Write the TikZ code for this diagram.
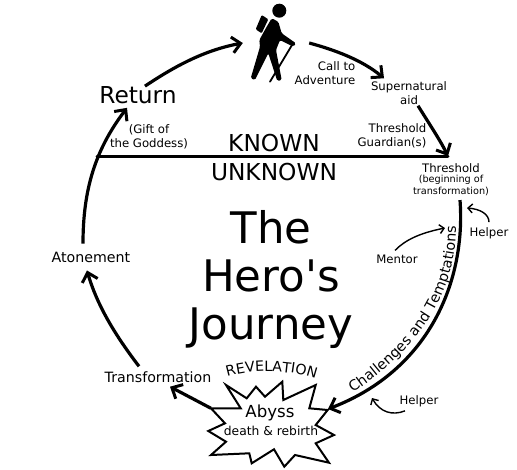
\documentclass[tikz,border=0pt]{standalone}
\usepackage{fontspec}
\setmainfont{DejaVu Sans}
\newfontfamily\titlefont{DejaVu Sans}[Ligatures=NoRequired]
\usepackage{xcolor}
\usetikzlibrary{arrows.meta,decorations.text}
\begin{document}
\begin{tikzpicture}[x=1pt,y=-1pt,every node/.style={inner sep=0pt,align=center,text=black},
lab/.style={font=\fontsize{11.7}{14}\selectfont},
small/.style={font=\fontsize{9.7}{12}\selectfont},
mid/.style={font=\fontsize{14.2}{17}\selectfont},
big/.style={font=\fontsize{23.3}{28}\selectfont},
heavy/.style={line width=3.2pt,-{Straight Barb[length=8.5pt,width=16pt,line width=3pt]}},
thin/.style={line width=1.4pt,-{Straight Barb[length=4.5pt,width=9pt,line width=1.4pt]}}]
\useasboundingbox (0,0) rectangle (517,469);
\fill[white] (0,0) rectangle (517,469);
% abyss star
\draw[line width=2pt,fill=white,miter limit=10] (226,385)--(246.7,398.3)--(256,386.7)--(265,396.7)--(282.3,381.7)--(283.3,400)--(315.7,385)--(309.3,408.3)--(327.7,410)--(315.7,425)--(334,435)--(315.7,443.3)--(329,462.7)--(295,455)--(284.3,466.7)--(274,449.3)--(251.7,463.3)--(249.3,453.3)--(211,455)--(226,441.7)--(208.3,431)--(225,423.3)--(211,408.3)--(240.7,408.3)--cycle;
\coordinate (tipl) at (211,408.3);
\coordinate (tipr) at (328,409);
\coordinate (gate) at (448,156);
\coordinate (linel) at (97,156);
\coordinate (mentortip) at (445,228);
\coordinate (helperatip) at (467,208);
\coordinate (helperbtip) at (372,398);
% hiker
\fill (279.3,10.7) circle (7);
\fill[rounded corners=1pt] (261.7,15)--(268.3,19.3)--(261.7,33.3)--(255.7,29.3)--cycle;
\fill[rounded corners=1.5pt] (271.7,18.3)--(278.3,21.7)--(281.7,33.3)--(296,43.3)--(293.3,46.7)--(280,40)--(276,50)--(281.7,80)--(277.3,81)--(268.3,53.3)--(255,80)--(250.7,78.3)--(260,46.7)--(259.3,40)--(266.7,26.7)--cycle;
\draw[line width=1.8pt,line cap=round] (292,45)--(270,81.7);
\node[minimum width=66pt,minimum height=78pt] (hiker) at (276,43) {};
\node[big] (return) at (138,95) {Return};
\node[lab] (gift) at (149,137) {(Gift of\\the Goddess)};
\node[big] (known) at (274,143) {KNOWN};
\node[big] (unknown) at (274,172) {UNKNOWN};
\node[lab,align=right] (call) at (325,73) {Call to\\Adventure};
\node[lab] (aid) at (409,93) {Supernatural\\aid};
\node[lab,align=right] (guardian) at (392,135.5) {Threshold\\Guardian(s)};
\node[lab] (threshold) at (451,168) {Threshold};
\node[small,below=0pt] (begin) at (451,175) {(beginning of\\transformation)};
\node[font=\titlefont\fontsize{43.5}{48}\selectfont] (title) at (271,279) {The\\Hero's\\Journey};
\node[mid] (atonement) at (91,257) {Atonement};
\node[mid] (transformation) at (158,377) {Transformation};
\node[lab] (mentor) at (397,259) {Mentor};
\node[lab] (helpera) at (489,233) {Helper};
\node[lab] (helperb) at (419,401) {Helper};
\node[font=\fontsize{16.6}{20}\selectfont] (abyss) at (270,413) {Abyss};
\node[font=\fontsize{12.3}{15}\selectfont] (rebirth) at (271,431) {death \& rebirth};
% journey
\draw[heavy] ([xshift=7pt]return.north) .. controls (175,66) and (205,50) .. (hiker.west);
\draw[heavy] (hiker.east) .. controls (335,50) and (362,60) .. ([xshift=-25pt,yshift=3pt]aid.north);
\draw[heavy] ([xshift=9pt,yshift=-1pt]aid.south) .. controls (430,125) and (440,140) .. (gate);
\draw[line width=3pt,line cap=round] (linel) -- (gate);
\draw[heavy] ([xshift=9pt,yshift=-4pt]begin.south) .. controls (466,280) and (430,370) .. (tipr);
\draw[heavy] (tipl) -- ([xshift=12pt,yshift=-4pt]transformation.south);
\draw[heavy] ([xshift=-19pt,yshift=5pt]transformation.north) .. controls (115,335) and (97,305) .. ([xshift=-4pt,yshift=-8pt]atonement.south);
\draw[heavy] ([xshift=-8pt,yshift=8pt]atonement.north) .. controls (83,190) and (95,150) .. ([xshift=-11pt,yshift=-4pt]return.south);
\draw[thin] ([xshift=-2pt,yshift=4pt]mentor.north) .. controls (405,240) and (420,233) .. (mentortip);
\draw[thin] ([yshift=5pt]helpera.north) .. controls (489,214) and (480,209) .. (helperatip);
\draw[thin] ([xshift=-14pt,yshift=-4pt]helperb.south) .. controls (392,416) and (380,412) .. (helperbtip);
% curved labels
\path[decorate,decoration={text along path,text align=center,text={|\fontsize{14.3}{17}\selectfont|Challenges and Temptations}}] (351,394) .. controls (410,355) and (457,300) .. (456,224);
\path[decorate,decoration={text along path,text align=center,text={|\fontsize{14.2}{17}\selectfont|REVELATION}}] (224,378) .. controls (250,369) and (290,369) .. (319,380);
\end{tikzpicture}
\end{document}
